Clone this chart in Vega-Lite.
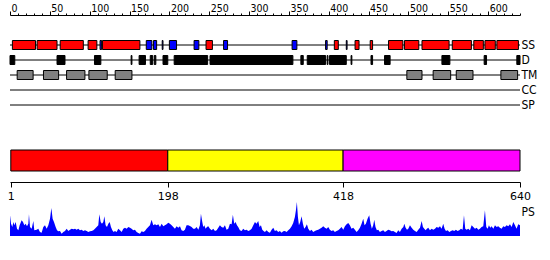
{
 "$schema": "https://vega.github.io/schema/vega-lite/v6.json",
 "width": 550, "height": 260, "autosize": "none", "padding": 0,
 "background": "white",
 "config": {"view": {"stroke": null}, "axis": {"grid": false, "domainColor": "#000", "tickColor": "#000", "labelColor": "#000"}},
 "datasets": {
  "tracks": [{"track": "SS"}, {"track": "D"}, {"track": "TM"}, {"track": "CC"}, {"track": "SP"}],
  "features": [
   {"track": "SS", "type": "helix", "start": 3, "end": 32},
   {"track": "SS", "type": "helix", "start": 34, "end": 59},
   {"track": "SS", "type": "helix", "start": 63, "end": 92},
   {"track": "SS", "type": "helix", "start": 98, "end": 109},
   {"track": "SS", "type": "strand", "start": 113, "end": 115},
   {"track": "SS", "type": "helix", "start": 116, "end": 163},
   {"track": "SS", "type": "strand", "start": 171, "end": 178},
   {"track": "SS", "type": "strand", "start": 180, "end": 184},
   {"track": "SS", "type": "strand", "start": 191, "end": 192},
   {"track": "SS", "type": "strand", "start": 200, "end": 209},
   {"track": "SS", "type": "strand", "start": 231, "end": 237},
   {"track": "SS", "type": "helix", "start": 246, "end": 254},
   {"track": "SS", "type": "strand", "start": 268, "end": 273},
   {"track": "SS", "type": "strand", "start": 354, "end": 360},
   {"track": "SS", "type": "strand", "start": 396, "end": 398},
   {"track": "SS", "type": "helix", "start": 407, "end": 412},
   {"track": "SS", "type": "strand", "start": 422, "end": 423},
   {"track": "SS", "type": "helix", "start": 433, "end": 438},
   {"track": "SS", "type": "helix", "start": 452, "end": 455},
   {"track": "SS", "type": "helix", "start": 475, "end": 493},
   {"track": "SS", "type": "helix", "start": 495, "end": 513},
   {"track": "SS", "type": "helix", "start": 517, "end": 551},
   {"track": "SS", "type": "helix", "start": 555, "end": 579},
   {"track": "SS", "type": "helix", "start": 582, "end": 594},
   {"track": "SS", "type": "helix", "start": 596, "end": 609},
   {"track": "SS", "type": "helix", "start": 611, "end": 638},
   {"track": "D", "type": "disorder", "start": 0, "end": 6},
   {"track": "D", "type": "disorder", "start": 59, "end": 69},
   {"track": "D", "type": "disorder", "start": 106, "end": 114},
   {"track": "D", "type": "disorder", "start": 152, "end": 153},
   {"track": "D", "type": "disorder", "start": 162, "end": 170},
   {"track": "D", "type": "disorder", "start": 176, "end": 179},
   {"track": "D", "type": "disorder", "start": 181, "end": 183},
   {"track": "D", "type": "disorder", "start": 192, "end": 198},
   {"track": "D", "type": "disorder", "start": 206, "end": 248},
   {"track": "D", "type": "disorder", "start": 251, "end": 355},
   {"track": "D", "type": "disorder", "start": 365, "end": 368},
   {"track": "D", "type": "disorder", "start": 373, "end": 396},
   {"track": "D", "type": "disorder", "start": 398, "end": 399},
   {"track": "D", "type": "disorder", "start": 401, "end": 422},
   {"track": "D", "type": "disorder", "start": 428, "end": 429},
   {"track": "D", "type": "disorder", "start": 453, "end": 455},
   {"track": "D", "type": "disorder", "start": 470, "end": 477},
   {"track": "D", "type": "disorder", "start": 542, "end": 552},
   {"track": "D", "type": "disorder", "start": 595, "end": 598},
   {"track": "D", "type": "disorder", "start": 636, "end": 640},
   {"track": "TM", "type": "tm", "start": 9, "end": 29},
   {"track": "TM", "type": "tm", "start": 42, "end": 61},
   {"track": "TM", "type": "tm", "start": 71, "end": 94},
   {"track": "TM", "type": "tm", "start": 99, "end": 122},
   {"track": "TM", "type": "tm", "start": 132, "end": 153},
   {"track": "TM", "type": "tm", "start": 498, "end": 517},
   {"track": "TM", "type": "tm", "start": 531, "end": 553},
   {"track": "TM", "type": "tm", "start": 560, "end": 581},
   {"track": "TM", "type": "tm", "start": 616, "end": 637}
  ],
  "domains": [
   {"domain": "D1", "start": 1, "end": 198},
   {"domain": "D2", "start": 198, "end": 418},
   {"domain": "D3", "start": 418, "end": 640}
  ],
  "ps": [
   {"pos":0,"ps":20.7},{"pos":1.3,"ps":12.3},{"pos":2.9,"ps":9},{"pos":4.2,"ps":14},{"pos":5.4,"ps":10.7},{"pos":7.1,"ps":14},{"pos":8.8,"ps":7.3},{"pos":10.5,"ps":5.7},{"pos":12.1,"ps":10.7},{"pos":14.6,"ps":15.7},{"pos":16.3,"ps":14},{"pos":18,"ps":10.7},{"pos":19.7,"ps":12.3},{"pos":21.3,"ps":9.7},{"pos":23,"ps":12.3},{"pos":23.8,"ps":21.7},{"pos":25.1,"ps":9},{"pos":27.2,"ps":7.3},{"pos":29.3,"ps":15},{"pos":30.5,"ps":5.7},{"pos":33.5,"ps":6.3},{"pos":35.5,"ps":7.3},{"pos":37.6,"ps":4},{"pos":39.7,"ps":3.3},{"pos":41.8,"ps":9},{"pos":43.9,"ps":10.7},{"pos":46,"ps":7.3},{"pos":48.1,"ps":10.7},{"pos":50.2,"ps":17.3},{"pos":51.9,"ps":28},{"pos":53.5,"ps":17.3},{"pos":55.2,"ps":14},{"pos":57.3,"ps":9},{"pos":59,"ps":5.7},{"pos":60.6,"ps":4.7},{"pos":62.7,"ps":5},{"pos":64.8,"ps":2.3},{"pos":66.9,"ps":4},{"pos":69,"ps":5},{"pos":71.1,"ps":7.3},{"pos":73.2,"ps":5},{"pos":75.3,"ps":6.3},{"pos":77.4,"ps":7.3},{"pos":79.5,"ps":6.7},{"pos":81.6,"ps":7.3},{"pos":83.6,"ps":6.3},{"pos":85.7,"ps":7.3},{"pos":87.8,"ps":5.7},{"pos":89.9,"ps":6.3},{"pos":92,"ps":5},{"pos":94.1,"ps":5.7},{"pos":96.2,"ps":5},{"pos":98.3,"ps":4},{"pos":100.4,"ps":4.7},{"pos":102.5,"ps":5},{"pos":104.6,"ps":5.7},{"pos":106.6,"ps":7.3},{"pos":108.7,"ps":9},{"pos":110.8,"ps":10.7},{"pos":112.1,"ps":21.7},{"pos":113.8,"ps":14},{"pos":115.4,"ps":12.3},{"pos":117.1,"ps":14},{"pos":118.4,"ps":19.7},{"pos":120,"ps":10.7},{"pos":121.7,"ps":9},{"pos":123.4,"ps":12.3},{"pos":125.1,"ps":14},{"pos":126.7,"ps":9},{"pos":128.4,"ps":5.7},{"pos":130.1,"ps":4},{"pos":131.7,"ps":5},{"pos":133.8,"ps":4},{"pos":135.9,"ps":7.3},{"pos":138,"ps":5.7},{"pos":140.1,"ps":4},{"pos":142.2,"ps":7.3},{"pos":144.3,"ps":8.3},{"pos":146.4,"ps":7.3},{"pos":148.5,"ps":9},{"pos":150.6,"ps":8.3},{"pos":152.6,"ps":7.3},{"pos":154.7,"ps":5.7},{"pos":156.8,"ps":6.3},{"pos":158.9,"ps":4},{"pos":161,"ps":3},{"pos":163.1,"ps":2.3},
   {"pos":165.2,"ps":4.7},{"pos":167.3,"ps":4},{"pos":169.3,"ps":5},{"pos":171.4,"ps":7.3},{"pos":173.5,"ps":9},{"pos":175.6,"ps":10.7},{"pos":177.7,"ps":16.3},{"pos":179.8,"ps":10.7},{"pos":181.9,"ps":11.7},{"pos":184,"ps":10.7},{"pos":186.1,"ps":11.7},{"pos":188.2,"ps":9},{"pos":190.3,"ps":12.3},{"pos":192.4,"ps":9.7},{"pos":194.4,"ps":10.7},{"pos":196.5,"ps":11.7},{"pos":198.6,"ps":13.3},{"pos":200.7,"ps":12.3},{"pos":202.8,"ps":10.7},{"pos":204.9,"ps":9},{"pos":207,"ps":7.3},{"pos":209.1,"ps":9.7},{"pos":211.2,"ps":8.3},{"pos":213.3,"ps":9.7},{"pos":215.3,"ps":5.7},{"pos":217.4,"ps":5},{"pos":219.5,"ps":6.3},{"pos":221.6,"ps":10.7},{"pos":223.7,"ps":10.7},{"pos":225.8,"ps":10},{"pos":227.9,"ps":9},{"pos":230,"ps":7.3},{"pos":232.1,"ps":7.3},{"pos":234.2,"ps":9},{"pos":236.3,"ps":6.3},{"pos":238.3,"ps":10.7},{"pos":239.6,"ps":22.3},{"pos":241.3,"ps":14},{"pos":242.5,"ps":9},{"pos":243.8,"ps":10.7},{"pos":245.5,"ps":7.3},{"pos":247.1,"ps":9},{"pos":248.8,"ps":9.7},{"pos":250.9,"ps":7.3},{"pos":253,"ps":5.7},{"pos":255.1,"ps":7.3},{"pos":257.2,"ps":5},{"pos":259.3,"ps":5.7},{"pos":261.4,"ps":8.3},{"pos":263.4,"ps":10.7},{"pos":265.5,"ps":9},{"pos":267.6,"ps":8.3},{"pos":269.7,"ps":10.7},{"pos":271.8,"ps":6.3},{"pos":273.9,"ps":7.3},{"pos":276,"ps":12.3},{"pos":278.1,"ps":11.7},{"pos":279.7,"ps":21.3},{"pos":281.4,"ps":12.3},{"pos":283.1,"ps":14},{"pos":284.8,"ps":10.7},{"pos":286.4,"ps":9},{"pos":288.5,"ps":5.7},{"pos":290.6,"ps":5},{"pos":292.7,"ps":7.3},{"pos":294.8,"ps":5.7},{"pos":296.9,"ps":6.3},{"pos":299,"ps":5},{"pos":301.1,"ps":5.7},{"pos":303.2,"ps":7.3},{"pos":305.3,"ps":10.7},{"pos":307.4,"ps":14},{"pos":309.4,"ps":12.3},{"pos":311.5,"ps":15},{"pos":313.2,"ps":9},{"pos":314.9,"ps":10.7},{"pos":316.6,"ps":6.3},{"pos":318.2,"ps":5},{"pos":319.9,"ps":4},{"pos":322,"ps":5.7},{"pos":324.1,"ps":4},{"pos":326.2,"ps":3.3},
   {"pos":328.3,"ps":6.3},{"pos":330.4,"ps":8.3},{"pos":332.4,"ps":5},{"pos":334.5,"ps":5.7},{"pos":336.6,"ps":4},{"pos":338.7,"ps":5},{"pos":340.8,"ps":3.3},{"pos":342.9,"ps":4.7},{"pos":345,"ps":5},{"pos":347.1,"ps":4},{"pos":349.2,"ps":5.7},{"pos":351.3,"ps":7.3},{"pos":353.4,"ps":9.7},{"pos":355.4,"ps":13},{"pos":357.5,"ps":19},{"pos":358.8,"ps":25.7},{"pos":360,"ps":34},{"pos":361.3,"ps":19},{"pos":362.6,"ps":10.7},{"pos":364.2,"ps":14},{"pos":365.9,"ps":19.7},{"pos":367.6,"ps":12.3},{"pos":369.2,"ps":7.3},{"pos":370.9,"ps":9},{"pos":372.6,"ps":11.7},{"pos":374.3,"ps":7.3},{"pos":376.4,"ps":5},{"pos":378.4,"ps":6.3},{"pos":380.5,"ps":4},{"pos":382.6,"ps":5},{"pos":384.7,"ps":5.7},{"pos":386.8,"ps":6.3},{"pos":388.9,"ps":7.3},{"pos":391,"ps":8.3},{"pos":393.1,"ps":9.7},{"pos":395.2,"ps":8.3},{"pos":397.3,"ps":7.3},{"pos":399.4,"ps":9},{"pos":401.4,"ps":6.3},{"pos":403.5,"ps":5},{"pos":405.6,"ps":5.7},{"pos":407.7,"ps":4},{"pos":409.8,"ps":5},{"pos":411.9,"ps":5.7},{"pos":414,"ps":7.3},{"pos":416.1,"ps":9},{"pos":418.2,"ps":6.3},{"pos":420.3,"ps":9.7},{"pos":422.4,"ps":11.7},{"pos":424.5,"ps":13},{"pos":426.5,"ps":10.7},{"pos":428.6,"ps":7.3},{"pos":430.7,"ps":8.3},{"pos":432.8,"ps":6.3},{"pos":434.9,"ps":4},{"pos":437,"ps":5.7},{"pos":439.1,"ps":8.3},{"pos":441.2,"ps":12.3},{"pos":443.3,"ps":17.3},{"pos":444.9,"ps":10.7},{"pos":446.6,"ps":12.3},{"pos":448.7,"ps":17.3},{"pos":450.8,"ps":20.7},{"pos":452.5,"ps":12.3},{"pos":454.1,"ps":7.3},{"pos":455.8,"ps":10.7},{"pos":457.1,"ps":16.3},{"pos":458.7,"ps":9},{"pos":460.4,"ps":5.7},{"pos":462.1,"ps":6.3},{"pos":464.2,"ps":4},{"pos":466.3,"ps":5},{"pos":468.4,"ps":5.7},{"pos":470.5,"ps":4},{"pos":472.5,"ps":5},{"pos":474.6,"ps":6.3},{"pos":476.7,"ps":5.7},{"pos":478.8,"ps":4.7},{"pos":480.9,"ps":5},{"pos":483,"ps":4},{"pos":485.1,"ps":3},{"pos":487.2,"ps":5.7},{"pos":489.3,"ps":4},
   {"pos":491.5,"ps":7.3},{"pos":493.6,"ps":9},{"pos":494.8,"ps":12.3},{"pos":496.5,"ps":8.3},{"pos":498.2,"ps":6.3},{"pos":499.8,"ps":7.3},{"pos":501.9,"ps":10.7},{"pos":504,"ps":8.3},{"pos":506.1,"ps":6.3},{"pos":508.2,"ps":5},{"pos":510.3,"ps":4},{"pos":512.4,"ps":6.3},{"pos":514.5,"ps":8.3},{"pos":516.6,"ps":15},{"pos":518.2,"ps":9},{"pos":519.9,"ps":7.3},{"pos":521.6,"ps":5.7},{"pos":523.2,"ps":7.3},{"pos":524.9,"ps":8.3},{"pos":527,"ps":5.7},{"pos":529.1,"ps":7.3},{"pos":531.2,"ps":6.3},{"pos":533.3,"ps":7.3},{"pos":535.4,"ps":9},{"pos":537.5,"ps":8.3},{"pos":539.6,"ps":9.7},{"pos":541.6,"ps":7.3},{"pos":543.7,"ps":12.3},{"pos":545.4,"ps":7.3},{"pos":547.1,"ps":5},{"pos":549.2,"ps":5.7},{"pos":551.3,"ps":4},{"pos":553.4,"ps":5},{"pos":555.4,"ps":5.7},{"pos":557.5,"ps":5},{"pos":559.6,"ps":6.3},{"pos":561.7,"ps":5},{"pos":563.8,"ps":5.7},{"pos":565.9,"ps":7.3},{"pos":568,"ps":6.3},{"pos":569.7,"ps":20.7},{"pos":571.3,"ps":7.3},{"pos":573,"ps":6.3},{"pos":575.1,"ps":7.3},{"pos":577.2,"ps":5.7},{"pos":579.3,"ps":10.7},{"pos":581.4,"ps":9},{"pos":583.5,"ps":7.3},{"pos":585.6,"ps":8.3},{"pos":587.7,"ps":6.3},{"pos":589.7,"ps":7.3},{"pos":591.8,"ps":9},{"pos":593.9,"ps":9.7},{"pos":596,"ps":25.7},{"pos":597.7,"ps":9},{"pos":599.4,"ps":7.3},{"pos":601,"ps":10.7},{"pos":602.7,"ps":8.3},{"pos":604.4,"ps":9.7},{"pos":606.5,"ps":7.3},{"pos":608.6,"ps":10.7},{"pos":610.7,"ps":9},{"pos":612.7,"ps":9.7},{"pos":614.8,"ps":8.3},{"pos":616.9,"ps":7.3},{"pos":619,"ps":9.7},{"pos":621.1,"ps":9},{"pos":623.2,"ps":10.7},{"pos":625.3,"ps":9.7},{"pos":627.4,"ps":11.7},{"pos":629.5,"ps":9},{"pos":631.6,"ps":14},{"pos":633.7,"ps":10.7},{"pos":635.7,"ps":7.3},{"pos":637.8,"ps":11.7},{"pos":640,"ps":10.7}
  ]
 },
 "layer": [
  {
   "layer": [
    {
     "data": {"name": "tracks"},
     "mark": {"type": "rule", "color": "#000", "strokeWidth": 1},
     "encoding": {
      "x": {"datum": 0, "type": "quantitative", "scale": {"domain": [0, 640], "range": [10, 520], "nice": false, "zero": false}, "axis": null},
      "x2": {"datum": 640},
      "y": {"field": "track", "type": "nominal", "sort": null,
            "scale": {"type": "band", "domain": ["SS", "D", "TM", "CC", "SP"], "range": [37.5, 112.5], "paddingInner": 0, "paddingOuter": 0},
            "axis": {"orient": "right", "offset": -30, "title": null, "domain": false, "ticks": false, "labelPadding": 1, "labelFont": "'DejaVu Sans Condensed', 'Liberation Sans', sans-serif", "labelFontSize": 12, "labelAlign": "left", "labelBaseline": "middle"}}
     }
    },
    {
     "data": {"name": "features"},
     "mark": {"type": "bar", "size": 9, "stroke": "#000", "strokeWidth": 1},
     "encoding": {
      "x": {"field": "start", "type": "quantitative", "scale": {"domain": [0, 640], "range": [10, 520], "nice": false, "zero": false},
            "axis": {"orient": "top", "offset": -15, "title": null, "values": [0, 50, 100, 150, 200, 250, 300, 350, 400, 450, 500, 550, 600], "tickSize": 4, "labelAlign": "left", "labelBaseline": "alphabetic", "labelPadding": 0, "labelOffset": 1, "labelFont": "'DejaVu Sans Condensed', 'Liberation Sans', sans-serif", "labelFontSize": 10.5, "labelOverlap": false, "labelFlush": false}},
      "x2": {"field": "end"},
      "y": {"field": "track", "type": "nominal", "axis": null},
      "color": {"field": "type", "type": "nominal", "scale": {"domain": ["helix", "strand", "disorder", "tm"], "range": ["#ff0000", "#0000ff", "#000000", "#808080"]}, "legend": null}
     }
    }
   ],
   "resolve": {"axis": {"x": "independent", "y": "independent"}}
  },
  {
   "data": {"name": "domains"},
   "mark": {"type": "rect", "stroke": "#000", "strokeWidth": 1},
   "encoding": {
    "x": {"field": "start", "type": "quantitative", "scale": {"domain": [0, 640], "range": [10, 520], "nice": false, "zero": false},
          "axis": {"orient": "bottom", "offset": -78, "title": null, "values": [1, 198, 418, 640], "tickSize": 5, "labelPadding": 3, "labelFont": "DejaVu Sans", "labelFontSize": 11, "labelOverlap": false, "labelFlush": false}},
    "x2": {"field": "end"},
    "y": {"datum": 0, "type": "quantitative", "scale": {"domain": [0, 1], "range": [171, 150], "nice": false}, "axis": null},
    "y2": {"datum": 1},
    "color": {"field": "domain", "type": "nominal", "scale": {"domain": ["D1", "D2", "D3"], "range": ["#ff0000", "#ffff00", "#ff00ff"]}, "legend": null}
   }
  },
  {
   "data": {"name": "ps"},
   "mark": {"type": "area", "color": "#0000ff", "interpolate": "linear"},
   "encoding": {
    "x": {"field": "pos", "type": "quantitative", "scale": {"domain": [0, 640], "range": [10, 520], "nice": false, "zero": false},
          "axis": {"orient": "top", "offset": -15, "title": null, "values": [10,20,30,40,60,70,80,90,110,120,130,140,160,170,180,190,210,220,230,240,260,270,280,290,310,320,330,340,360,370,380,390,410,420,430,440,460,470,480,490,510,520,530,540,560,570,580,590,610,620,630,640], "tickSize": 2, "labels": false, "domain": false}},
    "y": {"field": "ps", "type": "quantitative", "scale": {"domain": [0, 35], "range": [236, 201], "nice": false, "zero": true},
          "axis": {"orient": "right", "offset": -30, "title": null, "values": [25], "labelExpr": "'PS'", "domain": false, "ticks": false, "labelPadding": 1, "labelFont": "'DejaVu Sans Condensed', 'Liberation Sans', sans-serif", "labelFontSize": 12, "labelAlign": "left", "labelBaseline": "middle"}}
   }
  }
 ],
 "resolve": {"scale": {"y": "independent", "color": "independent"}, "axis": {"x": "independent", "y": "independent"}}
}
